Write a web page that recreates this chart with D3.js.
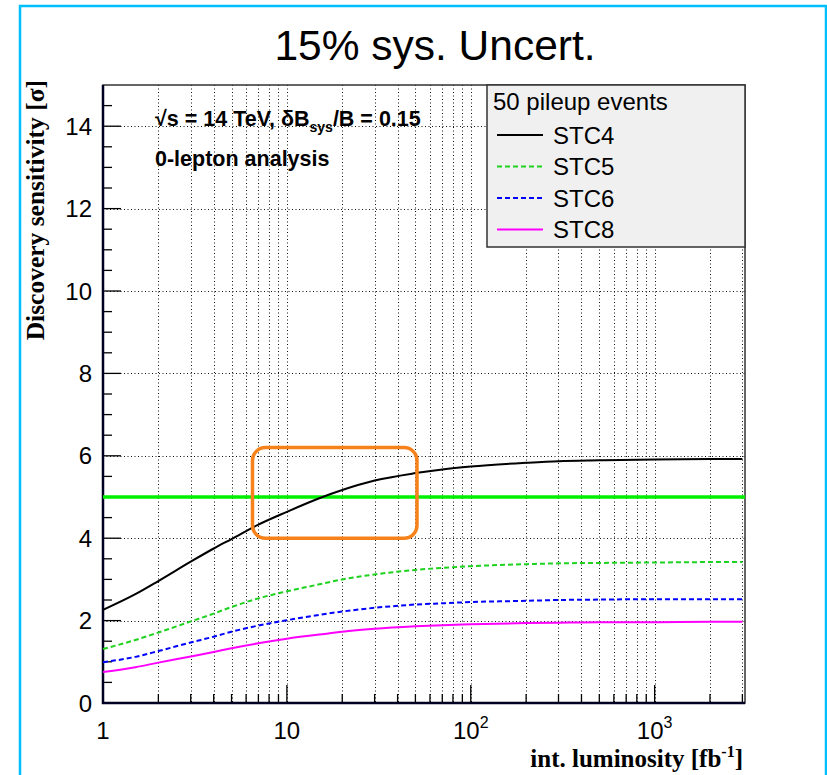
<!DOCTYPE html>
<html>
<head>
<meta charset="utf-8">
<script src="https://cdn.jsdelivr.net/npm/d3@7"></script>
<style>
  html, body { margin: 0; padding: 0; background: #fff; }
  svg { display: block; }
</style>
</head>
<body>
<script>
// Integrated luminosity points (fb^-1)
const lumi = [1, 1.5, 2, 3, 4, 5, 7, 10, 15, 20, 30, 50, 70, 100, 200, 300, 500, 1000, 2000, 3000];

// Discovery sensitivity per stop-cut configuration (sigma)
const stc4 = [2.26, 2.64, 2.96, 3.43, 3.75, 3.98, 4.33, 4.64, 4.97, 5.17, 5.40, 5.58, 5.67, 5.74, 5.83, 5.87, 5.89, 5.91, 5.92, 5.92];
const stc5 = [1.31, 1.53, 1.71, 1.98, 2.17, 2.33, 2.54, 2.71, 2.88, 3.00, 3.12, 3.23, 3.28, 3.32, 3.37, 3.39, 3.40, 3.41, 3.42, 3.42];
const stc6 = [0.99, 1.12, 1.26, 1.47, 1.61, 1.73, 1.88, 2.01, 2.14, 2.22, 2.31, 2.39, 2.42, 2.45, 2.48, 2.50, 2.51, 2.52, 2.52, 2.52];
const stc8 = [0.75, 0.87, 0.98, 1.13, 1.24, 1.33, 1.45, 1.56, 1.66, 1.73, 1.80, 1.86, 1.89, 1.91, 1.94, 1.95, 1.96, 1.96, 1.97, 1.97];

const seriesNames = ["STC4", "STC5", "STC6", "STC8"];
const discoveryLevel = 5;
// Highlighted region: [lumi min, lumi max], [sigma min, sigma max]
const boxLumi = [6.5, 51];
const boxSigma = [4.0, 6.2];

const yTicks = [0, 2, 4, 6, 8, 10, 12, 14];
const xMajor = [1, 10, 100, 1000];
const xLabels = ["1", "10", "10|2", "10|3"];

const W = 827, H = 775;
const M = { left: 103, right: 745, top: 85, bottom: 703 };
const SANS = "Liberation Sans, Arial, Helvetica, sans-serif";
const SERIF = "Liberation Serif, Times New Roman, serif";

const svg = d3.select("body").append("svg").attr("width", W).attr("height", H);

// Outer canvas frame
svg.append("rect").attr("x", 20).attr("y", 6).attr("width", 806).attr("height", 800)
  .attr("fill", "none").attr("stroke", "#00bfff").attr("stroke-width", 2.5);

const x = d3.scaleLog().domain([1, 3100]).range([M.left, M.right]);
const y = d3.scaleLinear().domain([0, 15]).range([M.bottom, M.top]);

// Title
svg.append("text").attr("x", 435).attr("y", 60).attr("text-anchor", "middle")
  .attr("font-family", SANS).attr("font-size", 42.5)
  .text("15% sys. Uncert.");

// Grid lines
const minorX = [];
for (let d = 1; d <= 1000; d *= 10) for (let k = 1; k <= 9; k++) { const v = d * k; if (v > 1 && v < 3100) minorX.push(v); }
const grid = svg.append("g").attr("stroke", "#111").attr("stroke-width", 1).attr("stroke-dasharray", "1,2.5");
grid.selectAll("line.gx").data(minorX).join("line")
  .attr("x1", d => Math.round(x(d)) + 0.5).attr("x2", d => Math.round(x(d)) + 0.5)
  .attr("y1", M.top).attr("y2", M.bottom);
grid.selectAll("line.gy").data(yTicks.filter(d => d > 0)).join("line")
  .attr("y1", d => Math.round(y(d)) + 0.5).attr("y2", d => Math.round(y(d)) + 0.5)
  .attr("x1", M.left).attr("x2", M.right);

// Axis ticks (drawn inward)
const yMinor = d3.range(0.5, 15, 0.5);
const ticks = svg.append("g").attr("stroke", "#000").attr("stroke-width", 1.3);
ticks.selectAll("line.ty").data(yMinor).join("line")
  .attr("x1", M.left).attr("x2", d => M.left + (d % 2 === 0 ? 18 : 9))
  .attr("y1", d => y(d)).attr("y2", d => y(d));
ticks.selectAll("line.tx").data(minorX).join("line")
  .attr("y1", M.bottom).attr("y2", d => M.bottom - (xMajor.includes(d) ? 18 : 9))
  .attr("x1", d => x(d)).attr("x2", d => x(d));

// Plot frame
svg.append("rect").attr("x", M.left).attr("y", M.top)
  .attr("width", M.right - M.left).attr("height", M.bottom - M.top)
  .attr("fill", "none").attr("stroke", "#333").attr("stroke-width", 1.5);
svg.append("path").attr("d", `M${M.left},${M.top}V${M.bottom}H${M.right}`)
  .attr("fill", "none").attr("stroke", "#000022").attr("stroke-width", 2.5);

// Tick labels
svg.append("g").selectAll("text").data(yTicks).join("text")
  .attr("x", 92).attr("y", d => y(d) + 8.5).attr("text-anchor", "end")
  .attr("font-family", SANS).attr("font-size", 24)
  .text(d => d);
const xl = svg.append("g").selectAll("text").data(xMajor).join("text")
  .attr("x", d => x(d)).attr("y", 739).attr("text-anchor", "middle")
  .attr("font-family", SANS).attr("font-size", 24);
xl.each(function(d, i) {
  const parts = xLabels[i].split("|");
  const t = d3.select(this);
  t.append("tspan").text(parts[0]);
  if (parts[1]) t.append("tspan").attr("dy", -11).attr("font-size", 16).text(parts[1]);
});

// Axis titles
svg.append("text")
  .attr("transform", `translate(44,${M.top - 5}) rotate(-90)`).attr("text-anchor", "end")
  .attr("font-family", SERIF).attr("font-weight", "bold").attr("font-size", 25.5)
  .text("Discovery sensitivity [σ]");
const xt = svg.append("text").attr("x", M.right - 2).attr("y", 767).attr("text-anchor", "end")
  .attr("font-family", SERIF).attr("font-weight", "bold").attr("font-size", 25);
xt.append("tspan").text("int. luminosity [fb");
xt.append("tspan").attr("dy", -10).attr("font-size", 16).text("-1");
xt.append("tspan").attr("dy", 10).text("]");

// Annotation text
const ann = svg.append("g").attr("font-family", SANS).attr("font-weight", "bold").attr("font-size", 21.5);
const a1 = ann.append("text").attr("x", 155).attr("y", 126);
a1.append("tspan").text("√s = 14 TeV,  δB");
a1.append("tspan").attr("dy", 6).attr("font-size", 14).text("sys");
a1.append("tspan").attr("dy", -6).text("/B = 0.15");
ann.append("text").attr("x", 155).attr("y", 166).text("0-lepton analysis");

// 5 sigma discovery line
svg.append("line").attr("x1", M.left).attr("x2", M.right)
  .attr("y1", y(discoveryLevel)).attr("y2", y(discoveryLevel))
  .attr("stroke", "#00f000").attr("stroke-width", 3.5);

// Curves
const styles = [
  { values: stc4, color: "#000000", dash: null },
  { values: stc5, color: "#1ed21e", dash: "5,3" },
  { values: stc6, color: "#0000ff", dash: "5,3" },
  { values: stc8, color: "#ff00ff", dash: null }
];
const line = d3.line().x(d => x(d[0])).y(d => y(d[1])).curve(d3.curveMonotoneX);
svg.append("g").selectAll("path").data(styles).join("path")
  .attr("d", s => line(lumi.map((l, i) => [l, s.values[i]])))
  .attr("fill", "none").attr("stroke", s => s.color).attr("stroke-width", 2)
  .attr("stroke-dasharray", s => s.dash);

// Highlight box
svg.append("rect")
  .attr("x", x(boxLumi[0])).attr("y", y(boxSigma[1]))
  .attr("width", x(boxLumi[1]) - x(boxLumi[0])).attr("height", y(boxSigma[0]) - y(boxSigma[1]))
  .attr("rx", 13).attr("ry", 13)
  .attr("fill", "none").attr("stroke", "#f7821b").attr("stroke-width", 3.5);

// Legend
const lg = svg.append("g");
lg.append("rect").attr("x", 487).attr("y", 85).attr("width", 258).attr("height", 162)
  .attr("fill", "#f0f0f0").attr("stroke", "#333").attr("stroke-width", 1.5);
lg.append("text").attr("x", 493).attr("y", 110)
  .attr("font-family", SANS).attr("font-size", 24)
  .text("50 pileup events");
const le = lg.selectAll("g.e").data(styles).join("g").attr("transform", (d, i) => `translate(0,${135 + i * 31.5})`);
le.append("line").attr("x1", 497).attr("x2", 543)
  .attr("stroke", d => d.color).attr("stroke-width", 2).attr("stroke-dasharray", d => d.dash);
le.append("text").attr("x", 553).attr("y", 8.5)
  .attr("font-family", SANS).attr("font-size", 24)
  .text((d, i) => seriesNames[i]);
</script>
</body>
</html>
